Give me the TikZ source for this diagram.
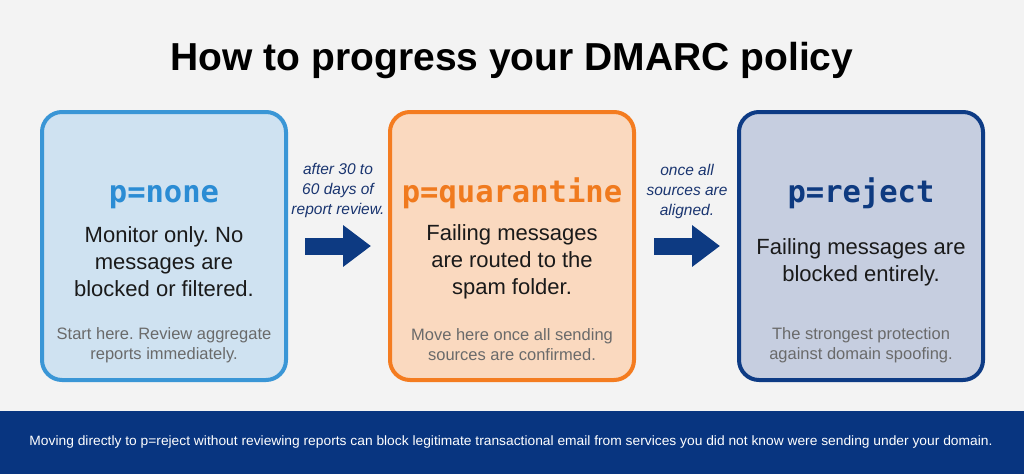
\documentclass[tikz,border=0pt]{standalone}
\usepackage{fontspec}
\usepackage{graphicx}
\setmainfont{Liberation Sans}
\newfontfamily\monob{DejaVu Sans Mono}
\usetikzlibrary{arrows.meta}
\frenchspacing
\definecolor{bgc}{HTML}{F3F3F3}
\definecolor{fillA}{HTML}{CFE2F1}
\definecolor{lineA}{HTML}{3A96D6}
\definecolor{headA}{HTML}{2B8CD4}
\definecolor{fillB}{HTML}{FAD9BF}
\definecolor{lineB}{HTML}{F47C20}
\definecolor{headB}{HTML}{F07A1E}
\definecolor{fillC}{HTML}{C6CEE0}
\definecolor{lineC}{HTML}{0D3B85}
\definecolor{headC}{HTML}{0E3A80}
\definecolor{arrowc}{HTML}{0D3A82}
\definecolor{labc}{HTML}{1A3570}
\definecolor{banner}{HTML}{083580}
\definecolor{bodyc}{HTML}{1A1A1A}
\definecolor{subc}{HTML}{6A6A6A}
\tikzset{
  stagebox/.style={draw, line width=4pt, rounded corners=20pt, minimum width=244pt, minimum height=268pt, inner sep=0pt},
  headtext/.style={anchor=base, font=\fontsize{30.5}{34}\selectfont\monob\bfseries},
  bodytext/.style={align=center, text=bodyc, font=\fontsize{22}{27}\selectfont, inner sep=0pt},
  subtext/.style={align=center, text=subc, font=\fontsize{16.5}{20}\selectfont, inner sep=0pt},
  labtext/.style={align=center, text=labc, font=\fontsize{15.5}{20}\selectfont\itshape, inner sep=0pt},
  bigarrow/.style={draw=arrowc, line width=17pt, -{Triangle[length=28pt, width=40pt]}},
}
\begin{document}
\begin{tikzpicture}[x=1pt, y=-1pt]
\fill[bgc] (0,0) rectangle (1024,474);
\useasboundingbox (0,0) rectangle (1024,474);
\node[font=\fontsize{39}{44}\selectfont\bfseries, text=black, anchor=base] (title) at (512,70) {How to progress your DMARC policy};

\node[stagebox, draw=lineA, fill=fillA] (b1) at (164,246) {};
\node[stagebox, draw=lineB, fill=fillB] (b2) at (512,246) {};
\node[stagebox, draw=lineC, fill=fillC] (b3) at (861,246) {};

\node[headtext, text=headA] (h1) at (164,202) {p=none};
\node[headtext, text=headB] (h2) at (512,202) {p=quarantine};
\node[headtext, text=headC] (h3) at (861,202) {p=reject};

\node[bodytext] (t1) at (164,262) {Monitor only. No\\messages are\\blocked or filtered.};
\node[bodytext] (t2) at (512,262) {Failing messages\\are routed to the\\spam folder.};
\node[bodytext] (t3) at (861,262) {Failing messages are\\blocked entirely.};

\node[subtext] (s1) at (164,345) {Start here. Review aggregate\\reports immediately.};
\node[subtext] (s2) at (512,345) {Move here once all sending\\sources are confirmed.};
\node[subtext] (s3) at (861,345) {The strongest protection\\against domain spoofing.};

\node[labtext] (l1) at (338,190) {after 30 to\\60 days of\\report review.};
\node[labtext] (l2) at (687,191) {once all\\sources are\\aligned.};

\draw[bigarrow] ([xshift=17pt]b1.east) -- ([xshift=-17pt]b2.west);
\draw[bigarrow] ([xshift=18pt]b2.east) -- ([xshift=-17pt]b3.west);

\fill[banner] (0,411) rectangle (1024,474);
\node[text=white, font=\fontsize{13.5}{16}\selectfont, inner sep=0pt] (note) at (511,442) {\resizebox{963pt}{\height}{Moving directly to p=reject without reviewing reports can block legitimate transactional email from services you did not know were sending under your domain.}};
\end{tikzpicture}
\end{document}
